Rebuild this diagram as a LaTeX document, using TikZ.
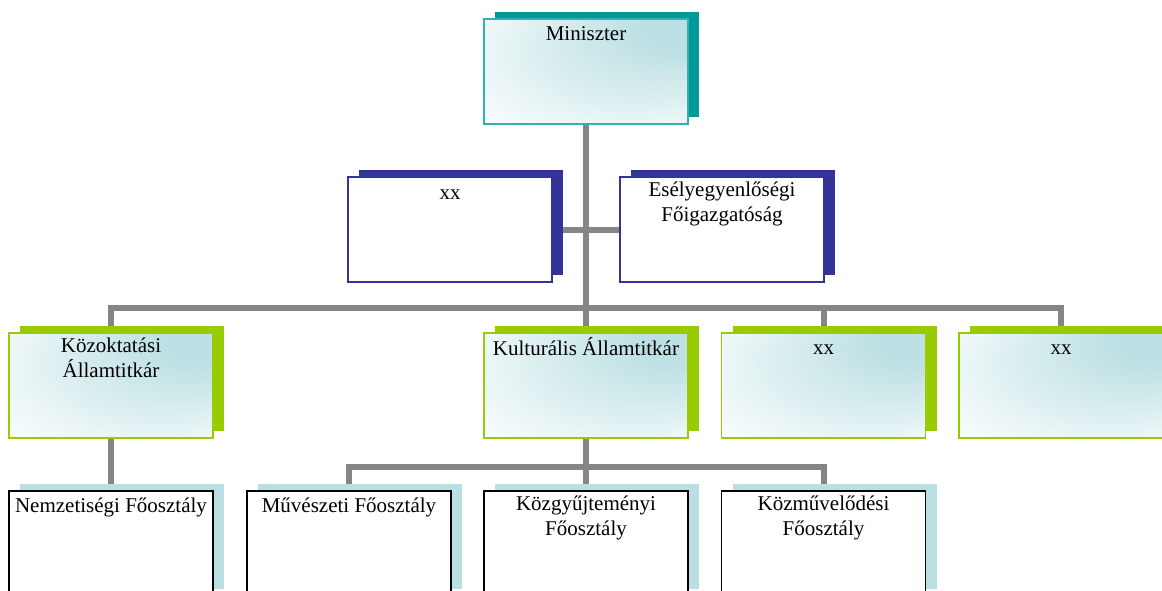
\documentclass[tikz,border=0pt]{standalone}
\usepackage{fontspec}
\setmainfont{Liberation Serif}
\usetikzlibrary{shadows,backgrounds}
\definecolor{tint}{RGB}{188,224,227}
\pgfdeclareradialshading{glowshade}{\pgfpoint{30bp}{26bp}}{color(0bp)=(tint);color(10bp)=(tint);color(44bp)=(white);color(50bp)=(white)}

\begin{document}
\begin{tikzpicture}[x=1pt,y=1pt]
\colorlet{tealdark}{rgb,255:red,0;green,153;blue,153}
\colorlet{tealline}{rgb,255:red,51;green,176;blue,176}
\colorlet{navy}{rgb,255:red,51;green,51;blue,153}
\colorlet{lime}{rgb,255:red,153;green,204;blue,0}
\colorlet{pale}{rgb,255:red,185;green,223;blue,226}
\colorlet{conn}{black!48}
\tikzset{box/.style={rectangle,minimum width=204pt,minimum height=105pt,inner sep=0pt,line width=1.6pt},
  txt/.style={font=\fontsize{21}{25}\selectfont,align=center,inner sep=5pt,execute at begin node=\strut},
  hang/.style={label={[txt,anchor=north]north:#1}},
  back/.style={general shadow={fill=#1,shadow xshift=11pt,shadow yshift=7pt}},
  glow/.style={shading=glowshade},
  topbox/.style={box,back=tealdark,draw=tealline,glow},
  staffbox/.style={box,back=navy,draw=navy,fill=white,line width=1.2pt},
  secbox/.style={box,back=lime,draw=lime,glow},
  deptbox/.style={box,back=pale,draw=black,fill=white},
  link/.style={draw=conn,line width=6pt}}
\useasboundingbox (0,0) rectangle (1162,-591);

% leadership
\node[topbox,hang=Miniszter](min)at(586,-71.5){};
\node[staffbox,hang=xx](asst)at(450,-229.5){};
\node[staffbox,hang={Esélyegyenlőségi\\Főigazgatóság}](esely)at(722,-229.5){};

% state secretaries
\node[secbox,hang={Közoktatási\\Államtitkár}](kozokt)at(111,-385.5){};
\node[secbox,hang=Kulturális Államtitkár](kult)at(586,-385.5){};
\node[secbox,hang=xx](xxa)at(823.5,-385.5){};
\node[secbox,hang=xx](xxb)at(1061,-385.5){};

% departments
\node[deptbox,hang=Nemzetiségi Főosztály](nemz)at(111,-543.5){};
\node[deptbox,hang=Művészeti Főosztály](muv)at(349,-543.5){};
\node[deptbox,hang={Közgyűjteményi\\Főosztály}](kozgy)at(586,-543.5){};
\node[deptbox,hang={Közművelődési\\Főosztály}](kozm)at(823.5,-543.5){};

\coordinate(bar2)at(0,-308);
\coordinate(bar3)at(0,-467);

\begin{pgfonlayer}{background}
\draw[link](min.south)--(kult.north);
\draw[link](asst.east)--(esely.west);
\draw[link](kozokt.north)--(kozokt.north|-bar2)--(xxb.north|-bar2)--(xxb.north);
\draw[link](xxa.north|-bar2)--(xxa.north);
\draw[link](kozokt.south)--(nemz.north);
\draw[link](kult.south)--(kozgy.north);
\draw[link](muv.north)--(muv.north|-bar3)--(kozm.north|-bar3)--(kozm.north);
\end{pgfonlayer}
\end{tikzpicture}
\end{document}
